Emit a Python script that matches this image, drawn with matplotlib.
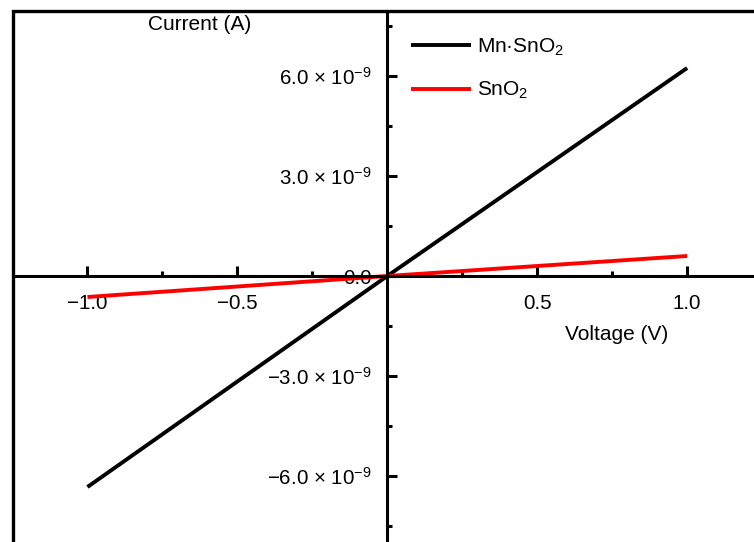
import matplotlib
matplotlib.use("Agg")
import matplotlib.pyplot as plt
from matplotlib.patches import Rectangle
from matplotlib.ticker import FixedLocator

plt.rcParams["font.family"] = ["Liberation Sans", "DejaVu Sans"]
plt.rcParams["mathtext.fontset"] = "custom"
plt.rcParams["mathtext.rm"] = "Liberation Sans"
plt.rcParams["mathtext.it"] = "Liberation Sans:italic"

# Daten
voltage = [-1.0, 0.0, 1.0]
current_mn_sno2 = [-6.33e-9, 0.0, 6.24e-9]
current_sno2 = [-0.63e-9, 0.0, 0.60e-9]

x_ticks = [-1.0, -0.5, 0.5, 1.0]
x_tick_labels = ["\u22121.0", "\u22120.5", "0.5", "1.0"]
y_ticks = [6e-9, 3e-9, 0.0, -3e-9, -6e-9]
y_tick_labels = [r"6.0 × 10$^{-9}$", r"3.0 × 10$^{-9}$", "0.0",
                 r"$-$3.0 × 10$^{-9}$", r"$-$6.0 × 10$^{-9}$"]

W, H = 754, 542
fig = plt.figure(figsize=(W / 100, H / 100), dpi=100)
left_px, top_px, right_px, bottom_px = 12.5, 11, 760, 548
ax = fig.add_axes([left_px / W, 1 - bottom_px / H,
                   (right_px - left_px) / W, (bottom_px - top_px) / H])

ax.plot(voltage, current_mn_sno2, color="black", lw=2.8, label=r"Mn·SnO$_2$",
        solid_capstyle="butt")
ax.plot(voltage, current_sno2, color="#ff0000", lw=2.8, label=r"SnO$_2$",
        solid_capstyle="butt")

ax.set_xlim(-1.25, 1.243)
ax.set_ylim(-8.16e-9, 7.95e-9)

for side in ("top", "right"):
    ax.spines[side].set_visible(False)
for side in ("left", "bottom"):
    ax.spines[side].set_position(("data", 0))
    ax.spines[side].set_linewidth(2.2)
ax.add_patch(Rectangle((0, 0), 1, 1, transform=ax.transAxes, fill=False,
                       lw=2.4, ec="black", clip_on=False, zorder=5))

ax.xaxis.set_major_locator(FixedLocator(x_ticks))
ax.set_xticklabels(x_tick_labels)
ax.xaxis.set_minor_locator(FixedLocator([-0.75, -0.25, 0.25, 0.75]))
ax.yaxis.set_major_locator(FixedLocator(y_ticks))
ax.set_yticklabels(y_tick_labels)
ax.yaxis.set_minor_locator(FixedLocator([7.5e-9, 4.5e-9, 1.5e-9, -1.5e-9, -4.5e-9, -7.5e-9]))

ax.tick_params(axis="both", which="major", direction="in", length=7, width=2.2,
               labelsize=14.8)
ax.tick_params(axis="both", which="minor", direction="in", length=3.5, width=2.2)
ax.tick_params(axis="x", which="major", pad=13)
ax.tick_params(axis="y", which="major", pad=11)

fig.text(200 / W, 1 - 25 / H, "Current (A)", fontsize=15, ha="center", va="center")
fig.text(617 / W, 1 - 335 / H, "Voltage (V)", fontsize=15, ha="center", va="center")

ax.legend(loc="upper left", bbox_to_anchor=(0.508, 0.987), frameon=False,
          fontsize=15, handlelength=2.9, handletextpad=0.25, labelspacing=1.05)

fig.savefig("out.png", dpi=100)
